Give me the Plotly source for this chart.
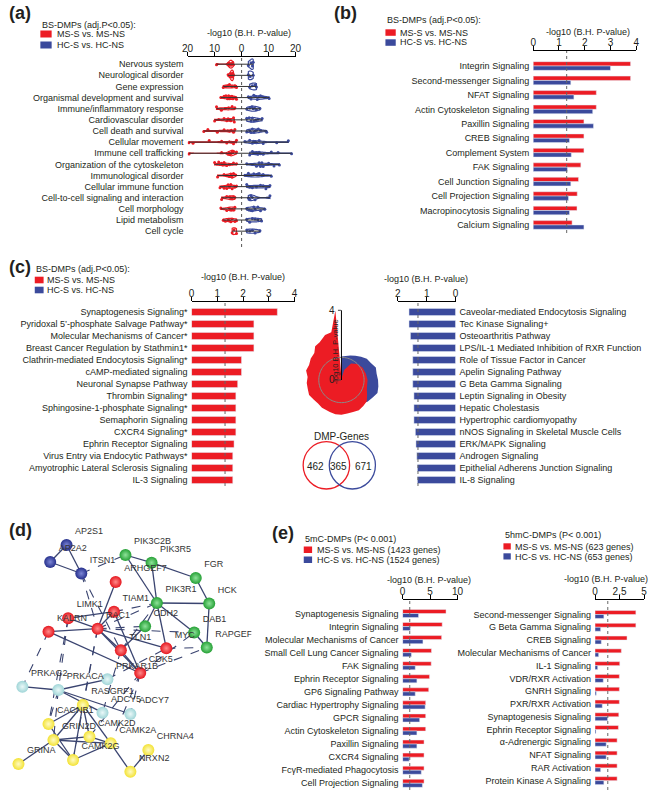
import plotly.graph_objects as go

W, H = 656, 790
RED = '#EC1C24'
BLUE = '#3B4A9C'
FONT = 'Liberation Sans, Arial, Helvetica, sans-serif'
TXT = '#231F20'


def fx(p):
    return p / W


def fy(p):
    return 1 - p / H


# ---------------- panel (a): violin data (-log10 B.H. P) ----------------
a_categories = ['Nervous system', 'Neurological disorder', 'Gene expression',
                'Organismal development and survival', 'Immune/inflammatory response',
                'Cardiovascular disorder', 'Cell death and survival', 'Cellular movement',
                'Immune cell trafficking', 'Organization of the cytoskeleton',
                'Immunological disorder', 'Cellular immune function',
                'Cell-to-cell signaling and interaction', 'Cell morphology',
                'Lipid metabolism', 'Cell cycle']
a_ms_values = [
    [9.3, 5.0, 4.5, 4.2, 4.0, 3.8, 3.5, 3.3, 3.0, 4.6, 3.9],
    [5.0, 4.2, 4.0, 3.8, 3.6, 3.5, 3.3, 3.2, 3.0],
    [6.8, 6.0, 5.2, 4.5, 3.6, 2.5, 1.9],
    [7.7, 6.5, 5.8, 5.2, 4.8, 4.5, 4.2, 3.9, 3.6, 3.2, 2.6, 1.9],
    [9.3, 7.5, 6.0, 4.8, 3.5, 2.5],
    [10.0, 8.5, 6.5, 5.5, 5.0, 4.5, 4.0, 3.0, 2.7],
    [14.0, 12.5, 9.0, 6.5, 5.2, 4.5, 3.8, 3.0, 2.5],
    [19.5, 18.0, 12.0, 7.4, 5.5, 4.5, 3.8, 3.0, 1.9],
    [19.5, 7.4, 5.0, 4.5, 4.2, 4.0, 3.8, 3.5, 3.3, 3.0, 1.9],
    [10.0, 8.5, 7.5, 7.0, 6.5, 6.0, 5.5, 4.5, 3.0, 1.9],
    [8.9, 6.5, 5.0, 4.5, 4.0, 3.8, 3.5, 3.0, 2.2],
    [8.0, 6.5, 5.5, 5.0, 4.5, 4.0, 3.5, 2.5, 1.9],
    [7.4, 5.5, 4.5, 4.0, 3.5, 3.0, 2.5],
    [7.7, 5.5, 4.5, 4.0, 3.5, 3.0, 2.5],
    [6.8, 6.0, 5.0, 4.5, 4.0, 3.5, 2.5, 1.9],
    [3.5, 2.8, 1.9],
]
a_hc_values = [
    [2.5, 3.5, 4.0, 4.3],
    [2.5, 3.2, 4.3],
    [3.0, 4.0, 5.0, 5.5],
    [2.5, 3.5, 4.5, 5.2, 5.8, 6.3, 7.0, 7.8, 8.5, 10.2],
    [1.9, 3.0, 3.8, 4.3, 4.8, 5.5, 6.8],
    [1.9, 2.8, 3.5, 4.0, 4.6, 5.2, 6.0, 7.6],
    [1.9, 3.0, 3.5, 4.0, 4.5, 5.0, 5.5, 6.2, 7.0, 9.3],
    [1.2, 3.0, 4.0, 4.5, 5.0, 5.5, 6.5, 8.0, 13.0, 17.3],
    [3.0, 4.0, 4.5, 5.0, 5.5, 6.0, 6.5, 7.0, 8.0, 11.0, 13.5, 18.5],
    [1.9, 4.0, 5.5, 6.5, 7.0, 7.5, 8.0, 10.0, 12.0, 14.0],
    [1.2, 2.5, 3.5, 4.5, 5.5, 6.0, 6.5, 8.0, 11.0],
    [1.9, 3.0, 4.0, 5.5, 7.0, 8.0, 9.0, 10.5],
    [2.5, 3.0, 3.5, 4.0, 5.0, 10.5],
    [1.9, 2.8, 3.5, 4.0, 4.5, 5.0, 6.0, 7.0, 8.6],
    [1.9, 3.0, 4.0, 5.0, 6.0, 7.4],
    [1.9, 3.0, 4.0, 5.0, 6.8],
]
a_ticks = [-20, -10, 0, 10, 20]
a_ticktext = ['20', '10', '0', '10', '20']

# ---------------- panel (b) ----------------
b_categories = ['Integrin Signaling', 'Second-messenger Signaling', 'NFAT Signaling',
                'Actin Cytoskeleton Signaling', 'Paxillin Signaling', 'CREB Signaling',
                'Complement System', 'FAK Signaling', 'Cell Junction Signaling',
                'Cell Projection Signaling', 'Macropinocytosis Signaling', 'Calcium Signaling']
b_ms = [3.78, 3.78, 2.45, 2.45, 1.97, 1.97, 1.97, 1.85, 1.76, 1.71, 1.70, 1.51]
b_hc = [3.00, 1.46, 1.58, 2.31, 2.34, 1.41, 1.48, 1.33, 1.46, 1.37, 1.41, 1.97]
b_ticks = [0, 1, 2, 3, 4]

# ---------------- panel (c) ----------------
c_ms_categories = ['Synaptogenesis Signaling*', 'Pyridoxal 5\u2019-phosphate Salvage Pathway*',
                   'Molecular Mechanisms of Cancer*', 'Breast Cancer Regulation by Stathmin1*',
                   'Clathrin-mediated Endocytosis Signaling*', 'cAMP-mediated signaling',
                   'Neuronal Synapse Pathway', 'Thrombin Signaling*',
                   'Sphingosine-1-phosphate Signaling*', 'Semaphorin Signaling',
                   'CXCR4 Signaling*', 'Ephrin Receptor Signaling',
                   'Virus Entry via Endocytic Pathways*',
                   'Amyotrophic Lateral Sclerosis Signaling', 'IL-3 Signaling']
c_ms = [3.33, 2.42, 2.42, 2.42, 1.94, 1.94, 1.79, 1.72, 1.72, 1.72, 1.72, 1.65, 1.60, 1.60, 1.60]
c_hc_categories = ['Caveolar-mediated Endocytosis Signaling', 'Tec Kinase Signaling+',
                   'Osteoarthritis Pathway', 'LPS/IL-1 Mediated Inhibition of RXR Function',
                   'Role of Tissue Factor in Cancer', 'Apelin Signaling Pathway',
                   'G Beta Gamma Signaling', 'Leptin Signaling in Obesity',
                   'Hepatic Cholestasis', 'Hypertrophic cardiomyopathy',
                   'nNOS Signaling in Skeletal Muscle Cells', 'ERK/MAPK Signaling',
                   'Androgen Signaling', 'Epithelial Adherens Junction Signaling',
                   'IL-8 Signaling']
c_hc = [1.61, 1.61, 1.56, 1.48, 1.48, 1.48, 1.48, 1.44, 1.44, 1.44, 1.39, 1.37, 1.34, 1.32, 1.32]
c_left_ticks = [0, 1, 2, 3, 4]
c_right_ticks = [2, 1, 0]

# radar (theta clockwise from top, degrees)
polar_ms_theta = [355, 3, 15, 30, 45, 60, 75, 90, 100, 110, 120, 130, 140, 150, 160, 170, 180,
                  190, 200, 215, 225, 235, 245, 255, 265, 275, 285, 295, 305, 315, 322, 330,
                  340, 348]
polar_ms_r = [4.0, 0.1, 0.6, 1.1, 1.3, 1.4, 1.45, 1.5, 1.5, 1.55, 1.7, 1.9, 1.95, 2.0, 1.95,
              1.95, 2.0, 2.0, 1.95, 1.95, 1.9, 1.95, 2.05, 2.0, 2.0, 1.95, 2.1, 2.05, 2.15, 2.2,
              2.45, 2.5, 2.75, 2.8]
polar_hc_theta = [0, 0, 10, 20, 30, 40, 50, 60, 70, 80, 90, 100, 110, 120, 130, 138, 140]
polar_hc_r = [0.0, 1.35, 1.4, 1.5, 1.6, 1.75, 1.9, 1.95, 2.1, 2.05, 2.1, 2.15, 2.2, 2.05, 1.95,
              1.8, 0.0]
polar_threshold = 1.3
venn_counts = [462, 365, 671]

# ---------------- panel (e) ----------------
e5mc_categories = ['Synaptogenesis Signaling', 'Integrin Signaling',
                   'Molecular Mechanisms of Cancer', 'Small Cell Lung Cancer Signaling',
                   'FAK Signaling', 'Ephrin Receptor Signaling', 'GP6 Signaling Pathway',
                   'Cardiac Hypertrophy Signaling', 'GPCR Signaling',
                   'Actin Cytoskeleton Signaling', 'Paxillin Signaling', 'CXCR4 Signaling',
                   'Fc\u03b3R-mediated Phagocytosis', 'Cell Projection Signaling']
e5mc_ms = [7.9, 7.2, 7.1, 5.25, 5.2, 4.9, 4.75, 4.2, 4.2, 4.2, 3.9, 3.9, 3.9, 3.9]
e5mc_hc = [2.9, 1.4, 3.7, 1.6, 2.3, 2.6, 2.3, 4.1, 3.1, 2.6, 2.6, 1.2, 3.4, 3.6]
e5mc_ticks = [0, 5, 10]

e5hmc_categories = ['Second-messenger Signaling', 'G Beta Gamma Signaling', 'CREB Signaling',
                    'Molecular Mechanisms of Cancer', 'IL-1 Signaling', 'VDR/RXR Activation',
                    'GNRH Signaling', 'PXR/RXR Activation', 'Synaptogenesis Signaling',
                    'Ephrin Receptor Signaling', '\u03b1-Adrenergic Signaling', 'NFAT Signaling',
                    'RAR Activation', 'Protein Kinase A Signaling']
e5hmc_ms = [4.16, 4.16, 3.26, 2.68, 2.52, 2.48, 2.48, 2.48, 2.42, 2.38, 2.25, 2.25, 2.25, 2.25]
e5hmc_hc = [0.90, 0.57, 0.64, 0.37, 0.27, 0.84, 0.13, 0.74, 1.28, 0.10, 1.14, 1.14, 0.57, 0.90]
e5hmc_ticks = [0, 2.5, 5]
e5hmc_ticktext = ['0', '2.5', '5']

# ---------------- panel (d): network ----------------
net_genes = ['AP2S1', 'AP2A2', 'ITSN1', 'PIK3C2B', 'PIK3R5', 'FGR', 'ARHGEF7', 'PIK3R1', 'HCK',
             'TIAM1', 'LIMK1', 'RAC1', 'KALRN', 'CDH2', 'DAB1', 'TLN1', 'MYC', 'RAPGEF1',
             'PRKAR1B', 'CDK5', 'PRKAG2', 'PRKACA', 'RASGRF1', 'ADCY5', 'ADCY7', 'CACNB1',
             'GRIN2D', 'CAMK2D', 'CAMK2A', 'CAMK2G', 'CHRNA4', 'GRINA', 'NRXN2']
net_x = [61.7, 45.0, 76.7, 121.7, 148.3, 193.3, 111.7, 153.7, 207.0, 110.0, 63.3, 93.3, 43.3,
         141.7, 191.7, 117.0, 163.3, 204.5, 103.3, 136.7, 16.7, 53.3, 78.3, 98.3, 126.7, 43.3,
         48.3, 85.0, 106.7, 68.3, 145.0, 12.7, 126.7]
net_y = [545.0, 562.0, 573.5, 555.0, 562.7, 578.0, 582.0, 603.0, 603.5, 611.7, 618.2, 628.7,
         631.7, 626.3, 632.5, 650.3, 648.3, 647.5, 679.3, 673.0, 686.7, 690.0, 705.0, 712.7,
         714.0, 724.0, 740.0, 736.7, 743.3, 760.0, 750.0, 764.0, 771.7]
net_group = ['blue', 'blue', 'blue', 'green', 'green', 'green', 'red', 'green', 'green', 'red',
             'red', 'red', 'red', 'green', 'green', 'red', 'red', 'green', 'cyan', 'red', 'cyan',
             'cyan', 'yellow', 'cyan', 'cyan', 'yellow', 'yellow', 'yellow', 'yellow', 'yellow',
             'yellow', 'yellow', 'yellow']
net_edges_solid = [
    ('AP2S1', 'AP2A2'), ('AP2S1', 'ITSN1'), ('AP2A2', 'ITSN1'),
    ('PIK3C2B', 'PIK3R5'), ('PIK3C2B', 'PIK3R1'), ('PIK3R5', 'PIK3R1'), ('PIK3R5', 'FGR'),
    ('FGR', 'HCK'), ('PIK3R1', 'HCK'), ('HCK', 'RAPGEF1'), ('DAB1', 'RAPGEF1'),
    ('PIK3R1', 'DAB1'), ('PIK3R1', 'CDH2'), ('PIK3R1', 'MYC'),
    ('ARHGEF7', 'RAC1'), ('TIAM1', 'RAC1'), ('LIMK1', 'RAC1'), ('KALRN', 'RAC1'),
    ('RAC1', 'TLN1'), ('RAC1', 'MYC'), ('RAC1', 'CDK5'), ('TIAM1', 'CDK5'), ('TLN1', 'CDK5'),
    ('KALRN', 'CDK5'), ('LIMK1', 'TIAM1'), ('CDH2', 'TLN1'),
    ('PRKAG2', 'PRKACA'), ('PRKACA', 'PRKAR1B'), ('PRKACA', 'ADCY5'), ('PRKACA', 'ADCY7'),
    ('RASGRF1', 'CACNB1'), ('RASGRF1', 'GRIN2D'), ('RASGRF1', 'CAMK2D'), ('RASGRF1', 'CAMK2G'),
    ('RASGRF1', 'CAMK2A'), ('GRIN2D', 'CAMK2D'), ('GRIN2D', 'CAMK2A'), ('GRIN2D', 'CAMK2G'),
    ('GRIN2D', 'GRINA'), ('CAMK2D', 'CAMK2A'), ('CAMK2G', 'CAMK2A'), ('CAMK2A', 'NRXN2'),
    ('CHRNA4', 'NRXN2'), ('CACNB1', 'CAMK2G'),
]
net_edges_dashed = [
    ('ITSN1', 'PIK3C2B'), ('ITSN1', 'RAC1'), ('ITSN1', 'TLN1'), ('RAC1', 'PIK3R1'),
    ('TIAM1', 'PIK3R1'), ('RAC1', 'CDH2'), ('TLN1', 'PIK3R1'), ('MYC', 'RAPGEF1'),
    ('CDK5', 'RAPGEF1'), ('CDK5', 'DAB1'), ('RAC1', 'DAB1'), ('LIMK1', 'CACNB1'),
    ('LIMK1', 'PRKACA'), ('RAC1', 'RASGRF1'), ('RAC1', 'CAMK2G'), ('TLN1', 'ADCY5'),
    ('CDK5', 'ADCY7'), ('CDK5', 'CAMK2A'), ('CDK5', 'CAMK2D'), ('PRKAR1B', 'MYC'),
    ('PRKACA', 'CACNB1'), ('PRKACA', 'GRIN2D'), ('KALRN', 'PRKAG2'),
]
net_palette = {'red': ('#E5161E', '#FF8A8A'), 'green': ('#25A035', '#8FE39A'),
               'blue': ('#26308C', '#7C86D6'), 'cyan': ('#9FD5D7', '#EAF8F8'),
               'yellow': ('#F3E234', '#FFFBC4')}

fig = go.Figure()
shapes = []
annotations = []


def ann(text, x, y, size=9, xanchor='left', yanchor='middle', bold=False, textangle=0,
        color=TXT):
    annotations.append(dict(text=('<b>%s</b>' % text) if bold else text, x=fx(x), y=fy(y),
                            xref='paper', yref='paper', showarrow=False, xanchor=xanchor,
                            yanchor=yanchor, textangle=textangle,
                            font=dict(size=size, color=color, family=FONT)))


def swatch(x0, y0, x1, y1, color):
    shapes.append(dict(type='rect', xref='paper', yref='paper', x0=fx(x0), x1=fx(x1),
                       y0=fy(y1), y1=fy(y0), fillcolor=color, line=dict(width=0)))


def legend_block(title, x, ytitle, labels, sw_x, sw_w, sw_ys, sw_h, text_x, text_ys):
    ann(title, x, ytitle)
    for lab, col, sy, ty in zip(labels, [RED, BLUE], sw_ys, text_ys):
        swatch(sw_x, sy, sw_x + sw_w, sy + sw_h, col)
        ann(lab, text_x, ty)


def xaxis_top(x0, x1, rng, tickvals, ticktext, anchor):
    return dict(domain=[fx(x0), fx(x1)], range=rng, side='top', anchor=anchor,
                showline=True, linecolor='black', linewidth=1, ticks='outside', ticklen=4,
                tickwidth=1, tickcolor='black', tickvals=tickvals, ticktext=ticktext,
                showgrid=False, zeroline=False, fixedrange=True, ticklabelstandoff=-4,
                tickfont=dict(size=10, color=TXT, family=FONT))


def yaxis_cat(cats, axis_top, row0, step, bottom, anchor, side='left'):
    return dict(domain=[fy(bottom), fy(axis_top)], type='category', categoryorder='array',
                categoryarray=cats, range=[(bottom - row0) / step, (axis_top - row0) / step],
                showline=False, ticks='', showgrid=False, zeroline=False, side=side,
                anchor=anchor, fixedrange=True, ticklabelstandoff=3,
                tickfont=dict(size=9, color=TXT, family=FONT))


def dotted(xref, yref, xv=1.3):
    shapes.append(dict(type='line', xref=xref, yref=yref + ' domain', x0=xv, x1=xv, y0=0, y1=1,
                       line=dict(color='#666666', width=1, dash='dot'), layer='above'))


# ---------------- panel (a) traces ----------------
seg_x, seg_y = [], []
for cat, ms, hc in zip(a_categories, a_ms_values, a_hc_values):
    seg_x += [-max(ms), max(hc), None]
    seg_y += [cat, cat, None]
fig.add_trace(go.Scatter(x=seg_x, y=seg_y, mode='lines', line=dict(color='#333333', width=1),
                         xaxis='x', yaxis='y', showlegend=False, hoverinfo='skip'))
for vals, col in ((a_ms_values, RED), (a_hc_values, BLUE)):
    xs, ys = [], []
    for cat, v in zip(a_categories, vals):
        sign = -1 if col == RED else 1
        xs += [sign * t for t in v]
        ys += [cat] * len(v)
    fig.add_trace(go.Violin(x=xs, y=ys, orientation='h', xaxis='x', yaxis='y',
                            line=dict(color=col, width=1.2), fillcolor='rgba(255,255,255,0.9)',
                            points='all', pointpos=0, jitter=0.45,
                            marker=dict(color=col, size=3), width=0.95, scalemode='width',
                            spanmode='hard', showlegend=False, hoverinfo='skip'))

# ---------------- panel (b) traces ----------------
wb = 0.3
fig.add_trace(go.Bar(y=b_categories, x=b_ms, orientation='h', marker_color=RED, width=wb,
                     offset=-wb, xaxis='x2', yaxis='y2', showlegend=False))
fig.add_trace(go.Bar(y=b_categories, x=b_hc, orientation='h', marker_color=BLUE, width=wb,
                     offset=0, xaxis='x2', yaxis='y2', showlegend=False))

# ---------------- panel (c) traces ----------------
wc = 0.6
fig.add_trace(go.Bar(y=c_ms_categories, x=c_ms, orientation='h', marker_color=RED, width=wc,
                     offset=-wc / 2, xaxis='x3', yaxis='y3', showlegend=False))
fig.add_trace(go.Bar(y=c_hc_categories, x=c_hc, orientation='h', marker_color=BLUE, width=wc,
                     offset=-wc / 2, xaxis='x4', yaxis='y4', showlegend=False))

fig.add_trace(go.Scatterpolar(r=polar_hc_r, theta=polar_hc_theta, fill='toself', mode='lines',
                              line=dict(width=0, color=BLUE), fillcolor=BLUE,
                              showlegend=False, hoverinfo='skip'))
fig.add_trace(go.Scatterpolar(r=polar_ms_r, theta=polar_ms_theta, fill='toself', mode='lines',
                              line=dict(width=0, color=RED), fillcolor=RED,
                              showlegend=False, hoverinfo='skip'))
circ_theta = list(range(0, 361, 4))
fig.add_trace(go.Scatterpolar(r=[polar_threshold] * len(circ_theta), theta=circ_theta,
                              mode='lines', line=dict(width=1, color='#8a8a8a'),
                              showlegend=False, hoverinfo='skip'))

# ---------------- panel (e) traces ----------------
we = 0.31
fig.add_trace(go.Bar(y=e5mc_categories, x=e5mc_ms, orientation='h', marker_color=RED,
                     width=we, offset=-we, xaxis='x5', yaxis='y5', showlegend=False))
fig.add_trace(go.Bar(y=e5mc_categories, x=e5mc_hc, orientation='h', marker_color=BLUE,
                     width=we, offset=0, xaxis='x5', yaxis='y5', showlegend=False))
fig.add_trace(go.Bar(y=e5hmc_categories, x=e5hmc_ms, orientation='h', marker_color=RED,
                     width=we, offset=-we, xaxis='x6', yaxis='y6', showlegend=False))
fig.add_trace(go.Bar(y=e5hmc_categories, x=e5hmc_hc, orientation='h', marker_color=BLUE,
                     width=we, offset=0, xaxis='x6', yaxis='y6', showlegend=False))

# ---------------- panel (d) network ----------------
pos = {g: (x, y) for g, x, y in zip(net_genes, net_x, net_y)}
for edges, dash, wdt in ((net_edges_dashed, 'dash', 1.1), (net_edges_solid, 'solid', 1.3)):
    ex, ey = [], []
    for a, b in edges:
        ex += [pos[a][0], pos[b][0], None]
        ey += [pos[a][1], pos[b][1], None]
    fig.add_trace(go.Scatter(x=ex, y=ey, mode='lines', xaxis='x7', yaxis='y7',
                             line=dict(color='#3A4470', width=wdt, dash=dash),
                             showlegend=False, hoverinfo='skip'))
fig.add_trace(go.Scatter(
    x=net_x, y=net_y, mode='markers+text', xaxis='x7', yaxis='y7', text=net_genes,
    textposition='top right', textfont=dict(size=9, color='#333333', family=FONT),
    marker=dict(size=12, color=[net_palette[g][0] for g in net_group],
                gradient=dict(type='radial', color=[net_palette[g][1] for g in net_group]),
                line=dict(width=0)),
    showlegend=False, hoverinfo='skip'))

# ---------------- decorations ----------------
# panel labels
ann('(a)', 1, 13, size=18, bold=True)
ann('(b)', 332, 13, size=18, bold=True)
ann('(c)', 1, 267, size=18, bold=True)
ann('(d)', 1, 530, size=18, bold=True)
ann('(e)', 269, 533, size=18, bold=True)

lab2 = ['MS-S vs. MS-NS', 'HC-S vs. HC-NS']
legend_block('BS-DMPs (adj.P<0.05):', 35, 25, lab2, 35, 11.5, [30.5, 41.5], 7, 50, [34, 45])
legend_block('BS-DMPs (adj.P<0.05):', 386, 20, lab2, 386.5, 10.5, [29.3, 39.3], 6.5, 399,
             [32.5, 42.5])
legend_block('BS-DMPs (adj.P<0.05):', 29, 268.5, lab2, 29.3, 9, [276.7, 286.7], 6.6, 40,
             [280, 290])
legend_block('5mC-DMPs (P< 0.001)', 303, 539,
             ['MS-S vs. MS-NS (1423 genes)', 'HC-S vs. HC-NS (1524 genes)'],
             303.3, 8.5, [546.5, 556.5], 6.5, 315, [550, 560])
legend_block('5hmC-DMPs (P< 0.001)', 506.5, 535,
             ['MS-S vs. MS-NS (623 genes)', 'HC-S vs. HC-NS (653 genes)'],
             506.7, 7.5, [543.3, 553.3], 6.2, 516, [546.5, 556.5])

# axis titles
AX = '-log10 (B.H. P-value)'
ann(AX, 247.5, 32.5, xanchor='center')
ann(AX, 593, 32, xanchor='center')
ann(AX, 241.5, 277, xanchor='center')
ann(AX, 428, 278.5, xanchor='center')
ann(AX, 431, 579.5, xanchor='center')
ann(AX, 611, 578.5, xanchor='center')

# radar axis title and venn
ann('-log10 B.H. P-value', 336.5, 352, size=7.5, xanchor='center', textangle=-90)
ann('DMP-Genes', 341.7, 436, size=10, xanchor='center')
shapes.append(dict(type='circle', xref='paper', yref='paper', x0=fx(302.7), x1=fx(350.0),
                   y0=fy(489.0), y1=fy(441.7), line=dict(color=RED, width=1.3)))
shapes.append(dict(type='circle', xref='paper', yref='paper', x0=fx(329.3), x1=fx(376.3),
                   y0=fy(489.0), y1=fy(441.7), line=dict(color=BLUE, width=1.3)))
for cnt, cx in zip(venn_counts, [315.0, 338.7, 364.0]):
    ann(str(cnt), cx, 466, size=10, xanchor='center')

# reference lines
shapes.append(dict(type='line', xref='x', yref='y domain', x0=0, x1=0, y0=0, y1=1,
                   line=dict(color='#555555', width=1, dash='dot'), layer='below'))
dotted('x2', 'y2')
dotted('x3', 'y3')
dotted('x4', 'y4')
dotted('x5', 'y5')
dotted('x6', 'y6')

layout = dict(
    width=W, height=H, margin=dict(l=0, r=0, t=0, b=0), paper_bgcolor='white',
    plot_bgcolor='rgba(0,0,0,0)', font=dict(family=FONT, size=9, color=TXT),
    barmode='overlay', violinmode='overlay', showlegend=False,
    xaxis=xaxis_top(185, 295, [-20, 20], a_ticks, a_ticktext, 'y'),
    yaxis=yaxis_cat(a_categories, 57, 64.2, 11.13, 247, 'x'),
    xaxis2=xaxis_top(537, 642, [0, 4], b_ticks, [str(t) for t in b_ticks], 'y2'),
    yaxis2=yaxis_cat(b_categories, 51, 66, 14.45, 233, 'x2'),
    xaxis3=xaxis_top(189, 294, [0, 4], c_left_ticks, [str(t) for t in c_left_ticks], 'y3'),
    yaxis3=yaxis_cat(c_ms_categories, 302, 312, 12, 486, 'x3'),
    xaxis4=xaxis_top(399, 458, [2, 0], c_right_ticks, [str(t) for t in c_right_ticks], 'y4'),
    yaxis4=yaxis_cat(c_hc_categories, 302, 312, 12, 486, 'x4', side='right'),
    xaxis5=xaxis_top(404, 460, [0, 10], e5mc_ticks, [str(t) for t in e5mc_ticks], 'y5'),
    yaxis5=yaxis_cat(e5mc_categories, 600, 613.5, 13.06, 790, 'x5'),
    xaxis6=xaxis_top(600, 650, [0, 5], e5hmc_ticks, e5hmc_ticktext, 'y6'),
    yaxis6=yaxis_cat(e5hmc_categories, 600, 614.5, 12.78, 790, 'x6'),
    xaxis7=dict(domain=[0, fx(250)], range=[0, 250], visible=False, fixedrange=True),
    yaxis7=dict(domain=[0, fy(525)], range=[790, 525], visible=False, fixedrange=True,
                anchor='x7'),
    polar=dict(domain=dict(x=[fx(270.7), fx(412.7)], y=[fy(451), fy(309)]),
               bgcolor='rgba(0,0,0,0)',
               angularaxis=dict(visible=False, direction='clockwise', rotation=90),
               radialaxis=dict(range=[0, 4], tickvals=[0, 4], showgrid=False, showline=True,
                               linecolor='black', linewidth=1, ticks='outside', ticklen=3,
                               angle=90, tickangle=90, side='counterclockwise',
                               tickfont=dict(size=10, color=TXT))),
    shapes=shapes, annotations=annotations,
)
fig.update_layout(**layout)
fig.write_html('out.html', config={'displayModeBar': False},
               post_script="document.body.style.margin='0';document.body.style.padding='0';"
                           "document.body.style.overflow='hidden';")
